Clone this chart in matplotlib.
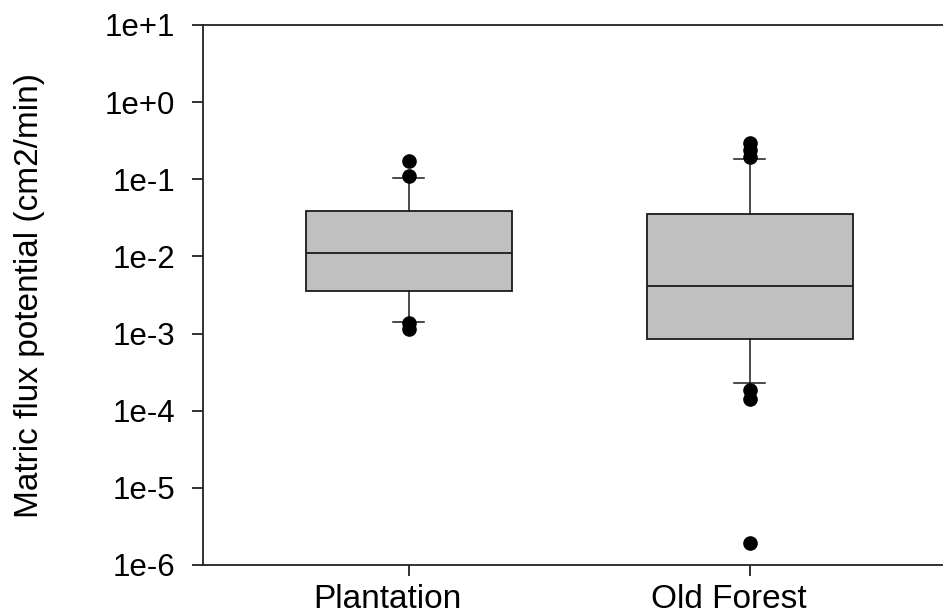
import numpy as np
import matplotlib
matplotlib.use("Agg")
import matplotlib.pyplot as plt
import matplotlib.transforms as mtransforms
from matplotlib.ticker import FuncFormatter, NullLocator

plt.rcParams["font.family"] = ["Liberation Sans", "DejaVu Sans"]

# box summaries (cm2/min): 10th pct, 25th, median, 75th, 90th, points outside
groups = ["Plantation", "Old Forest"]
p10 = [0.00143, 0.000231]
q1 = [0.00356, 0.00085]
med = [0.0110, 0.00414]
q3 = [0.0392, 0.0351]
p90 = [0.105, 0.183]
outliers = [
    [0.173, 0.110, 0.00137, 0.00115],
    [0.292, 0.240, 0.194, 0.000185, 0.000142, 1.91e-6],
]

stats = []
for i, name in enumerate(groups):
    stats.append({
        "label": name,
        "whislo": p10[i],
        "q1": q1[i],
        "med": med[i],
        "q3": q3[i],
        "whishi": p90[i],
        "fliers": np.array(outliers[i]),
    })

fig = plt.figure(figsize=(9.43, 6.15), dpi=100)
ax = fig.add_axes([203 / 943, 50 / 615, 740 / 943, 540 / 615])

ax.bxp(
    stats,
    positions=[1, 2],
    widths=0.604,
    capwidths=0.092,
    patch_artist=True,
    boxprops=dict(facecolor="#c0c0c0", edgecolor="#1a1a1a", linewidth=1.3),
    medianprops=dict(color="#1a1a1a", linewidth=1.3),
    whiskerprops=dict(color="#1a1a1a", linewidth=1.1),
    capprops=dict(color="#1a1a1a", linewidth=1.1),
    flierprops=dict(marker="o", markerfacecolor="black", markeredgecolor="black",
                    markersize=9.5, linestyle="none"),
)

ax.set_yscale("log")
ax.set_ylim(1e-6, 1e1)
ax.set_xlim(0.397, 2.567)
ax.set_yticks([10.0 ** k for k in range(-6, 2)])
ax.yaxis.set_minor_locator(NullLocator())
ax.yaxis.set_major_formatter(FuncFormatter(lambda v, _: "1e%+d" % round(np.log10(v))))

ax.set_xticks([1, 2])
ax.set_xticklabels(groups)

ax.spines["right"].set_visible(False)
for s in ["left", "top", "bottom"]:
    ax.spines[s].set_linewidth(1.3)
    ax.spines[s].set_color("#222222")

ax.tick_params(axis="both", direction="out", length=8, width=1.3, color="#222222")
ax.tick_params(axis="y", labelsize=22.5, pad=12)
ax.tick_params(axis="x", labelsize=24, pad=5.5)

# category labels sit a little left of their ticks
shift = mtransforms.ScaledTranslation(-21 / 100, 0, fig.dpi_scale_trans)
for lbl in ax.get_xticklabels():
    lbl.set_transform(lbl.get_transform() + shift)

ax.set_ylabel("Matric flux potential (cm2/min)", fontsize=24)
ax.yaxis.label.set_verticalalignment("center")
ax.yaxis.set_label_coords((30 - 203) / 740, 0.5)

fig.savefig("out.png", dpi=100)
